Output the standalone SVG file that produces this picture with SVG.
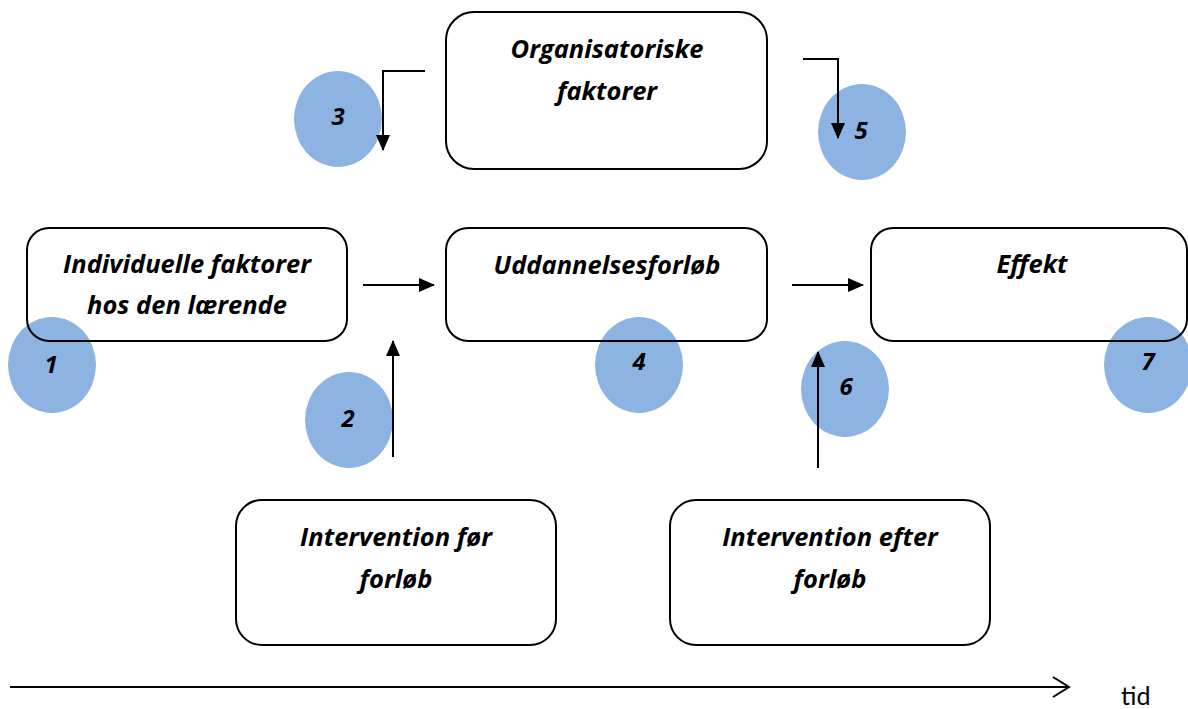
<svg xmlns="http://www.w3.org/2000/svg" width="1188" height="709" viewBox="0 0 1188 709">
<style>
.box{fill:none;stroke:#000;stroke-width:2}
.lbl{font-family:"Open Sans",Lato,"Liberation Sans",sans-serif;font-weight:bold;font-style:italic;font-size:25.5px;fill:#000;text-anchor:middle}
.num{font-family:"Open Sans",Lato,"Liberation Sans",sans-serif;font-weight:bold;font-style:italic;font-size:24px;fill:#000;text-anchor:middle}
.dot{fill:#8DB3E2}
.con{fill:none;stroke:#000;stroke-width:2}
</style>
<defs>
<marker id="ah" markerUnits="userSpaceOnUse" markerWidth="16" markerHeight="16" viewBox="0 0 16 16" refX="15" refY="8" orient="auto">
<path d="M0,1 L16,8 L0,15 Z" fill="#000"/>
</marker>
<marker id="open" markerUnits="userSpaceOnUse" markerWidth="20" markerHeight="24" viewBox="0 0 20 24" refX="18" refY="12" orient="auto">
<path d="M2,2 L18,12 L2,22" fill="none" stroke="#000" stroke-width="2"/>
</marker>
</defs>
<g id="markers">
<g id="m1"><ellipse class="dot" cx="52" cy="365" rx="44" ry="48"/><text class="num" x="51" y="373">1</text></g>
<g id="m2"><ellipse class="dot" cx="349" cy="420" rx="44" ry="48"/><text class="num" x="348" y="427">2</text></g>
<g id="m3"><ellipse class="dot" cx="338" cy="119" rx="44" ry="48"/><text class="num" x="338" y="125">3</text></g>
<g id="m4"><ellipse class="dot" cx="639" cy="365" rx="44" ry="48"/><text class="num" x="639" y="370">4</text></g>
<g id="m5"><ellipse class="dot" cx="862" cy="132" rx="44" ry="48"/><text class="num" x="861" y="139">5</text></g>
<g id="m6"><ellipse class="dot" cx="845" cy="389" rx="44" ry="48"/><text class="num" x="846" y="395">6</text></g>
<g id="m7"><ellipse class="dot" cx="1148" cy="365" rx="44" ry="48"/><text class="num" x="1148" y="370">7</text></g>
</g>
<g id="connectors">
<polyline class="con" points="425,71 383,71 383,150" marker-end="url(#ah)"/>
<polyline class="con" points="803,59 838,59 838,138" marker-end="url(#ah)"/>
<line class="con" x1="363" y1="285" x2="434" y2="285" marker-end="url(#ah)"/>
<line class="con" x1="792" y1="285" x2="863" y2="285" marker-end="url(#ah)"/>
<line class="con" x1="393" y1="457" x2="393" y2="341" marker-end="url(#ah)"/>
<line class="con" x1="818" y1="468" x2="818" y2="352" marker-end="url(#ah)"/>
<line class="con" x1="10" y1="687" x2="1069" y2="687" marker-end="url(#open)"/>
</g>
<g id="org"><rect class="box" x="446" y="12" width="321" height="157" rx="28"/><text class="lbl" x="607" y="58">Organisatoriske</text><text class="lbl" x="607" y="100">faktorer</text></g>
<g id="ind"><rect class="box" x="27" y="228" width="320" height="113" rx="22"/><text class="lbl" x="187" y="273">Individuelle faktorer</text><text class="lbl" x="187" y="314">hos den lærende</text></g>
<g id="udd"><rect class="box" x="446" y="228" width="321" height="113" rx="22"/><text class="lbl" x="607" y="274">Uddannelsesforløb</text></g>
<g id="eff"><rect class="box" x="871" y="228" width="316" height="113" rx="22"/><text class="lbl" x="1032" y="273">Effekt</text></g>
<g id="ivf"><rect class="box" x="236" y="500" width="320" height="145" rx="26"/><text class="lbl" x="396" y="546">Intervention før</text><text class="lbl" x="396" y="588">forløb</text></g>
<g id="ive"><rect class="box" x="670" y="500" width="320" height="145" rx="26"/><text class="lbl" x="830" y="546">Intervention efter</text><text class="lbl" x="830" y="588">forløb</text></g>
<text id="tid" x="1121" y="705" font-family="Lato,'Liberation Sans',sans-serif" font-size="25" fill="#000">tid</text>
</svg>
